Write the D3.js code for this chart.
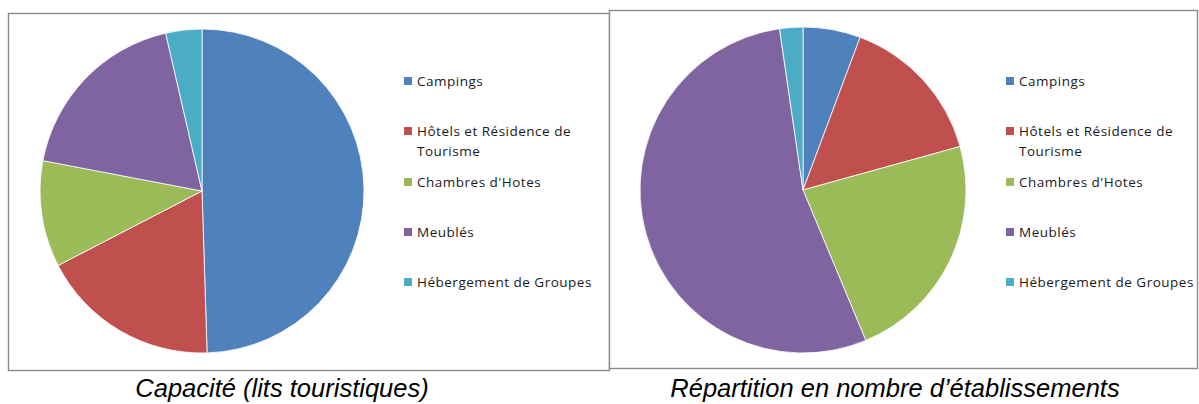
<!DOCTYPE html>
<html>
<head>
<meta charset="utf-8">
<script src="https://cdn.jsdelivr.net/npm/d3@7"></script>
<style>
  body { margin: 0; background: #fff; }
  svg { display: block; }
</style>
</head>
<body>
<svg id="chart" width="1199" height="404"></svg>
<script>
// categories shared by both pies
var categories = ["Campings", "Hôtels et Résidence de Tourisme", "Chambres d'Hotes", "Meublés", "Hébergement de Groupes"];
// legend labels, split in lines as in the picture
var legendLines = [["Campings"], ["Hôtels et Résidence de", "Tourisme"], ["Chambres d'Hotes"], ["Meublés"], ["Hébergement de Groupes"]];
// shares in percent
var capaciteValues = [49.5, 17.9, 10.6, 18.4, 3.6];
var etablissementsValues = [5.7, 15.0, 23.0, 54.0, 2.3];
var titles = ["Capacité (lits touristiques)", "Répartition en nombre d’établissements"];
var colors = ["#4f81bd", "#c0504d", "#9bbb59", "#8064a2", "#4bacc6"];

var svg = d3.select("#chart");

var panels = [
    {values: capaciteValues, title: titles[0], box: [8.5, 13.5, 601, 357], cx: 202, cy: 191, r: 162, legX: 404, titleX: 282},
    {values: etablissementsValues, title: titles[1], box: [609.5, 10.5, 588, 358], cx: 803, cy: 190, r: 163, legX: 1006, titleX: 895}
];

var legendRows = [81, 131, 182, 232, 282];

var colorScale = d3.scaleOrdinal()
    .domain(categories)
    .range(colors);

var pie = d3.pie()
    .sort(null)
    .value(function(d) { return d.value; });

panels.forEach(function(p) {
    var g = svg.append("g");

    g.append("rect")
        .attr("x", p.box[0])
        .attr("y", p.box[1])
        .attr("width", p.box[2])
        .attr("height", p.box[3])
        .attr("fill", "#fff")
        .attr("stroke", "#8c8c8c")
        .attr("stroke-width", 1.4);

    var data = categories.map(function(c, i) { return {cat: c, value: p.values[i]}; });
    var arc = d3.arc().innerRadius(0).outerRadius(p.r);

    g.append("g")
        .attr("transform", "translate(" + p.cx + "," + p.cy + ")")
        .selectAll("path")
        .data(pie(data))
        .enter().append("path")
        .attr("d", arc)
        .attr("fill", function(d) { return colorScale(d.data.cat); })
        .attr("stroke", "#fff")
        .attr("stroke-width", 0.8);

    // legend
    var leg = g.selectAll(".leg")
        .data(categories)
        .enter().append("g")
        .attr("transform", function(d, i) { return "translate(" + p.legX + "," + legendRows[i] + ")"; });

    leg.append("rect")
        .attr("x", 0)
        .attr("y", -4)
        .attr("width", 8)
        .attr("height", 8)
        .attr("fill", function(d) { return colorScale(d); });

    leg.append("text")
        .attr("x", 13)
        .attr("y", 4.5)
        .style("font-family", "'Open Sans', sans-serif")
        .style("font-size", "13.5px")
        .style("letter-spacing", "0.5px")
        .attr("fill", "#1a1a1a")
        .selectAll("tspan")
        .data(function(d, i) { return legendLines[i]; })
        .enter().append("tspan")
        .attr("x", 13)
        .attr("dy", function(d, j) { return j === 0 ? 0 : 20; })
        .text(function(d) { return d; });

    svg.append("text")
        .attr("x", p.titleX)
        .attr("y", 397)
        .attr("text-anchor", "middle")
        .style("font-family", "'Liberation Sans', Arial, sans-serif")
        .style("font-style", "italic")
        .style("font-size", "25.5px")
        .attr("fill", "#000")
        .text(p.title);
});
</script>
</body>
</html>
